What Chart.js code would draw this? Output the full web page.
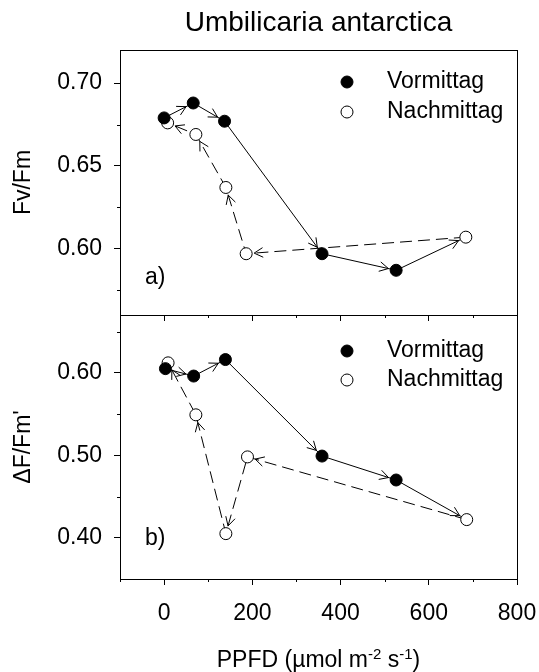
<!DOCTYPE html>
<html>
<head>
<meta charset="utf-8">
<script src="https://cdn.jsdelivr.net/npm/chart.js@4.4.0/dist/chart.umd.min.js"></script>
<style>
  html, body { margin: 0; padding: 0; background: #fff; }
  #wrap { position: relative; width: 539px; height: 672px; }
  #wrap canvas { position: absolute; left: 0; top: 0; }
</style>
</head>
<body>
<div id="wrap">
  <canvas id="panelA" width="539" height="672"></canvas>
  <canvas id="panelB" width="539" height="672"></canvas>
</div>
<script>
// panel a) Fv/Fm
const ppfdMorningA = [0, 66, 137, 358, 526];
const fvfmMorning = [0.679, 0.688, 0.677, 0.597, 0.587];
const ppfdAfternoonA = [684, 186, 140, 72, 8];
const fvfmAfternoon = [0.607, 0.597, 0.637, 0.669, 0.676];

// panel b) dF/Fm'
const ppfdMorningB = [3, 67, 139, 358, 526];
const yieldMorning = [0.605, 0.596, 0.616, 0.499, 0.470];
const ppfdAfternoonB = [686, 189, 140, 72, 9];
const yieldAfternoon = [0.422, 0.498, 0.405, 0.549, 0.612];

const seriesNames = ['Vormittag', 'Nachmittag'];
const xMajor = [0, 200, 400, 600, 800];
const xMinor = [-100, 100, 300, 500, 700];
const yMajorA = [0.60, 0.65, 0.70];
const yMinorA = [0.575, 0.625, 0.675];
const yMajorB = [0.40, 0.50, 0.60];
const yMinorB = [0.45, 0.55, 0.65];

const FONT = "'Liberation Sans', Arial, sans-serif";
Chart.defaults.font.family = FONT;
Chart.defaults.color = '#000';

const toPts = (xs, ys) => xs.map((x, i) => ({x: x, y: ys[i]}));

function buildDatasets(xm, ym, xa, ya) {
    const morning = toPts(xm, ym);
    const afternoon = toPts(xa, ya);
    return [
        // solid path runs through the morning and into the first afternoon point
        {data: morning.concat([afternoon[0]]), showLine: true, borderColor: '#000', borderWidth: 1,
            pointRadius: 0, order: 3, arrows: true},
        {data: afternoon, showLine: true, borderColor: '#000', borderWidth: 1, borderDash: [12, 6],
            pointRadius: 0, order: 3, arrows: true},
        {label: seriesNames[0], data: morning, showLine: false, pointRadius: 6,
            pointBackgroundColor: '#000', pointBorderColor: '#000', pointBorderWidth: 1, order: 1},
        {label: seriesNames[1], data: afternoon, showLine: false, pointRadius: 6,
            pointBackgroundColor: '#fff', pointBorderColor: '#000', pointBorderWidth: 1, order: 1},
    ];
}

function xScale(showLabels, height) {
    return {
        type: 'linear', min: -100, max: 800,
        afterBuildTicks: s => { s.ticks = xMajor.map(v => ({value: v})); },
        afterFit: s => { s.height = height; s.paddingLeft = 0; s.paddingRight = 0; },
        grid: {drawOnChartArea: false, tickLength: 6, color: '#000'},
        border: {display: false},
        ticks: {display: showLabels, autoSkip: false, maxRotation: 0, font: {size: 23}, padding: 15}
    };
}

function yScale(min, max, major, title) {
    return {
        type: 'linear', min: min, max: max,
        afterBuildTicks: s => { s.ticks = major.map(v => ({value: v})); },
        afterFit: s => { s.width = 120; },
        grid: {drawOnChartArea: false, tickLength: 6, color: '#000'},
        border: {display: false},
        ticks: {font: {size: 23}, padding: 12, callback: v => v.toFixed(2)},
        title: {display: true, text: title, font: {size: 23}, padding: {top: 10, bottom: 0}}
    };
}

function hline(ctx, x1, y1, x2, y2) {
    ctx.beginPath();
    ctx.moveTo(x1, y1);
    ctx.lineTo(x2, y2);
    ctx.stroke();
}

const decor = {
    id: 'decor',
    afterDraw(chart, _args, opts) {
        const {ctx, chartArea: a, scales} = chart;
        ctx.save();
        ctx.strokeStyle = '#000';
        ctx.lineWidth = 1;
        ctx.setLineDash([]);

        // frame
        ctx.strokeRect(a.left + 0.5, a.top + 0.5, a.right - a.left, a.bottom - a.top);

        // minor ticks
        xMinor.forEach(v => {
            const x = Math.round(scales.x.getPixelForValue(v)) + 0.5;
            hline(ctx, x, a.bottom, x, a.bottom + 3);
        });
        opts.yMinor.forEach(v => {
            const y = Math.round(scales.y.getPixelForValue(v)) + 0.5;
            hline(ctx, a.left - 3, y, a.left, y);
        });

        // arrow heads at the end of each segment
        chart.data.datasets.forEach((ds, i) => {
            if (!ds.arrows) return;
            const pts = chart.getDatasetMeta(i).data;
            for (let k = 1; k < pts.length; k++) {
                const p0 = pts[k - 1], p1 = pts[k];
                const dx = p1.x - p0.x, dy = p1.y - p0.y;
                const len = Math.hypot(dx, dy);
                const ux = dx / len, uy = dy / len;
                const tx = p1.x - ux * 8, ty = p1.y - uy * 8;
                const ang = Math.atan2(-uy, -ux);
                [0.5, -0.5].forEach(d => {
                    hline(ctx, tx, ty, tx + 10 * Math.cos(ang + d), ty + 10 * Math.sin(ang + d));
                });
            }
        });

        // legend
        ctx.font = '23px ' + FONT;
        ctx.textBaseline = 'middle';
        ctx.textAlign = 'left';
        ctx.fillStyle = '#000';
        [2, 3].forEach((di, j) => {
            const ds = chart.data.datasets[di];
            const y = opts.legendY[j];
            ctx.beginPath();
            ctx.arc(opts.legendX, y, 6, 0, Math.PI * 2);
            ctx.fillStyle = ds.pointBackgroundColor;
            ctx.fill();
            ctx.stroke();
            ctx.fillStyle = '#000';
            ctx.fillText(ds.label, opts.legendX + 40, y);
        });

        // panel letter
        ctx.fillText(opts.letter, 145, opts.letterY);

        // chart title / x axis title
        if (opts.title) {
            ctx.font = '28px ' + FONT;
            ctx.textAlign = 'center';
            ctx.fillText(opts.title, (a.left + a.right) / 2, 23);
        }
        if (opts.xTitle) {
            const runs = [['PPFD (\u00b5mol m', 0], ['-2', 1], [' s', 0], ['-1', 1], [')', 0]];
            const fontOf = r => (r[1] ? '15px ' : '23px ') + FONT;
            let w = 0;
            runs.forEach(r => { ctx.font = fontOf(r); w += ctx.measureText(r[0]).width; });
            let x = (a.left + a.right) / 2 - w / 2;
            ctx.textAlign = 'left';
            ctx.textBaseline = 'alphabetic';
            runs.forEach(r => {
                ctx.font = fontOf(r);
                ctx.fillText(r[0], x, r[1] ? 659 : 667);
                x += ctx.measureText(r[0]).width;
            });
        }
        ctx.restore();
    }
};

function makeChart(id, datasets, xs, ys, layoutPad, decorOpts) {
    return new Chart(document.getElementById(id), {
        type: 'scatter',
        data: {datasets: datasets},
        options: {
            responsive: false,
            animation: false,
            layout: {padding: layoutPad},
            scales: {x: xs, y: ys},
            elements: {line: {tension: 0}},
            plugins: {
                legend: {display: false},
                tooltip: {enabled: false},
                decor: decorOpts
            }
        },
        plugins: [decor]
    });
}

makeChart('panelA',
    buildDatasets(ppfdMorningA, fvfmMorning, ppfdAfternoonA, fvfmAfternoon),
    xScale(false, 357),
    yScale(0.56, 0.72, yMajorA, 'Fv/Fm'),
    {top: 50, right: 22, left: 0, bottom: 0},
    {yMinor: yMinorA, legendX: 347, legendY: [82, 112], letter: 'a)', letterY: 278,
        title: 'Umbilicaria antarctica'});

makeChart('panelB',
    buildDatasets(ppfdMorningB, yieldMorning, ppfdAfternoonB, yieldAfternoon),
    xScale(true, 93),
    yScale(0.35, 0.67, yMajorB, '\u0394F/Fm\''),
    {top: 315, right: 22, left: 0, bottom: 0},
    {yMinor: yMinorB, legendX: 347, legendY: [351, 380], letter: 'b)', letterY: 539,
        xTitle: true});
</script>
</body>
</html>
